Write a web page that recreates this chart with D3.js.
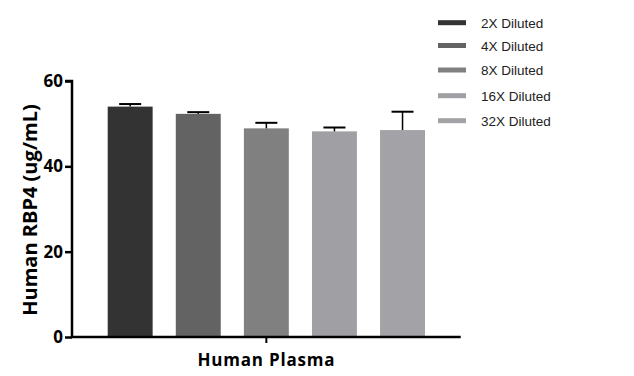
<!DOCTYPE html>
<html>
<head>
<meta charset="utf-8">
<script src="https://cdn.jsdelivr.net/npm/d3@7"></script>
<style>
  body { margin: 0; background: #fff; }
  svg { display: block; }
  .axis text { font-family: "Open Sans", sans-serif; font-weight: 700; font-size: 17px; fill: #000; }
  .legend text { font-family: "Liberation Sans", Arial, sans-serif; font-size: 13.5px; fill: #222; }
</style>
</head>
<body>
<div id="chart"></div>
<script>
// Data
var groups = ["2X Diluted", "4X Diluted", "8X Diluted", "16X Diluted", "32X Diluted"];
var means = [54.0, 52.3, 48.9, 48.2, 48.5];
var errors = [0.6, 0.4, 1.3, 0.9, 4.3];
var colors = ["#333333", "#636363", "#808080", "#a0a0a4", "#a3a3a7"];
var yTicks = [0, 20, 40, 60];
var categoryLabel = "Human Plasma";

var svgWidth = 634, svgHeight = 376;
var margin = { top: 81, right: 174, bottom: 39, left: 72 };
var chartWidth = svgWidth - margin.left - margin.right;
var chartHeight = svgHeight - margin.top - margin.bottom;

var svg = d3.select("#chart").append("svg")
    .attr("width", svgWidth)
    .attr("height", svgHeight);

var chartGroup = svg.append("g")
    .attr("transform", `translate(${margin.left}, ${margin.top})`);

// Scales
var xScale = d3.scaleBand()
    .domain(groups)
    .range([35.7, 353])
    .paddingInner(0.34)
    .paddingOuter(0);

var yScale = d3.scaleLinear()
    .domain([0, 60])
    .range([chartHeight, 0]);

// Bars
chartGroup.selectAll("rect.bar")
    .data(groups)
    .enter()
    .append("rect")
    .attr("class", "bar")
    .attr("x", d => xScale(d))
    .attr("y", (d, i) => yScale(means[i]))
    .attr("width", xScale.bandwidth())
    .attr("height", (d, i) => chartHeight - yScale(means[i]))
    .attr("fill", (d, i) => colors[i]);

// Error bars (upper only)
var errGroup = chartGroup.append("g");
groups.forEach(function(d, i) {
    var cx = xScale(d) + xScale.bandwidth() / 2;
    var top = yScale(means[i] + errors[i]);
    errGroup.append("line")
        .attr("x1", cx).attr("x2", cx)
        .attr("y1", yScale(means[i])).attr("y2", top)
        .attr("stroke", "#000").attr("stroke-width", 1.5);
    errGroup.append("line")
        .attr("x1", cx - 11).attr("x2", cx + 11)
        .attr("y1", top).attr("y2", top)
        .attr("stroke", "#000").attr("stroke-width", 2);
});

// Y axis
var yAxis = d3.axisLeft(yScale).tickValues(yTicks).tickSize(7).tickPadding(2);
var yG = chartGroup.append("g").attr("class", "axis").call(yAxis);
yG.select(".domain").attr("stroke", "#000").attr("stroke-width", 2.5)
    .attr("d", `M-7,0H0V${chartHeight}`);
yG.selectAll(".tick line").attr("stroke", "#000").attr("stroke-width", 2.5);

// X axis
var xLen = 388.7;
var xG = chartGroup.append("g").attr("class", "axis")
    .attr("transform", `translate(0, ${chartHeight})`);
xG.append("line")
    .attr("x1", -1.25).attr("x2", xLen)
    .attr("y1", 0).attr("y2", 0)
    .attr("stroke", "#000").attr("stroke-width", 2.5);
var midX = (xScale(groups[0]) + xScale(groups[groups.length - 1]) + xScale.bandwidth()) / 2;
xG.append("line")
    .attr("x1", midX).attr("x2", midX)
    .attr("y1", 0).attr("y2", 6)
    .attr("stroke", "#000").attr("stroke-width", 2);
xG.append("text")
    .attr("x", midX).attr("y", 29)
    .attr("text-anchor", "middle")
    .style("font-size", "17px")
    .style("letter-spacing", "0.8px")
    .text(categoryLabel);

// Y axis label
chartGroup.append("text")
    .attr("class", "axis")
    .attr("transform", "rotate(-90)")
    .attr("x", -129)
    .attr("y", -margin.left + 37)
    .attr("text-anchor", "middle")
    .style("font-family", "'Open Sans', sans-serif")
    .style("font-weight", 700)
    .style("font-size", "20px")
    .text("Human RBP4 (ug/mL)");

// Legend
var legend = svg.append("g").attr("class", "legend");
var legendY = [22.7, 45.5, 70, 95.7, 120.7];
groups.forEach(function(d, i) {
    var row = legend.append("g").attr("transform", `translate(438, ${legendY[i]})`);
    row.append("rect")
        .attr("x", 0).attr("y", -2.5)
        .attr("width", 28).attr("height", 5)
        .attr("fill", colors[i]);
    row.append("text")
        .attr("x", 43).attr("y", 5)
        .text(d);
});
</script>
</body>
</html>
